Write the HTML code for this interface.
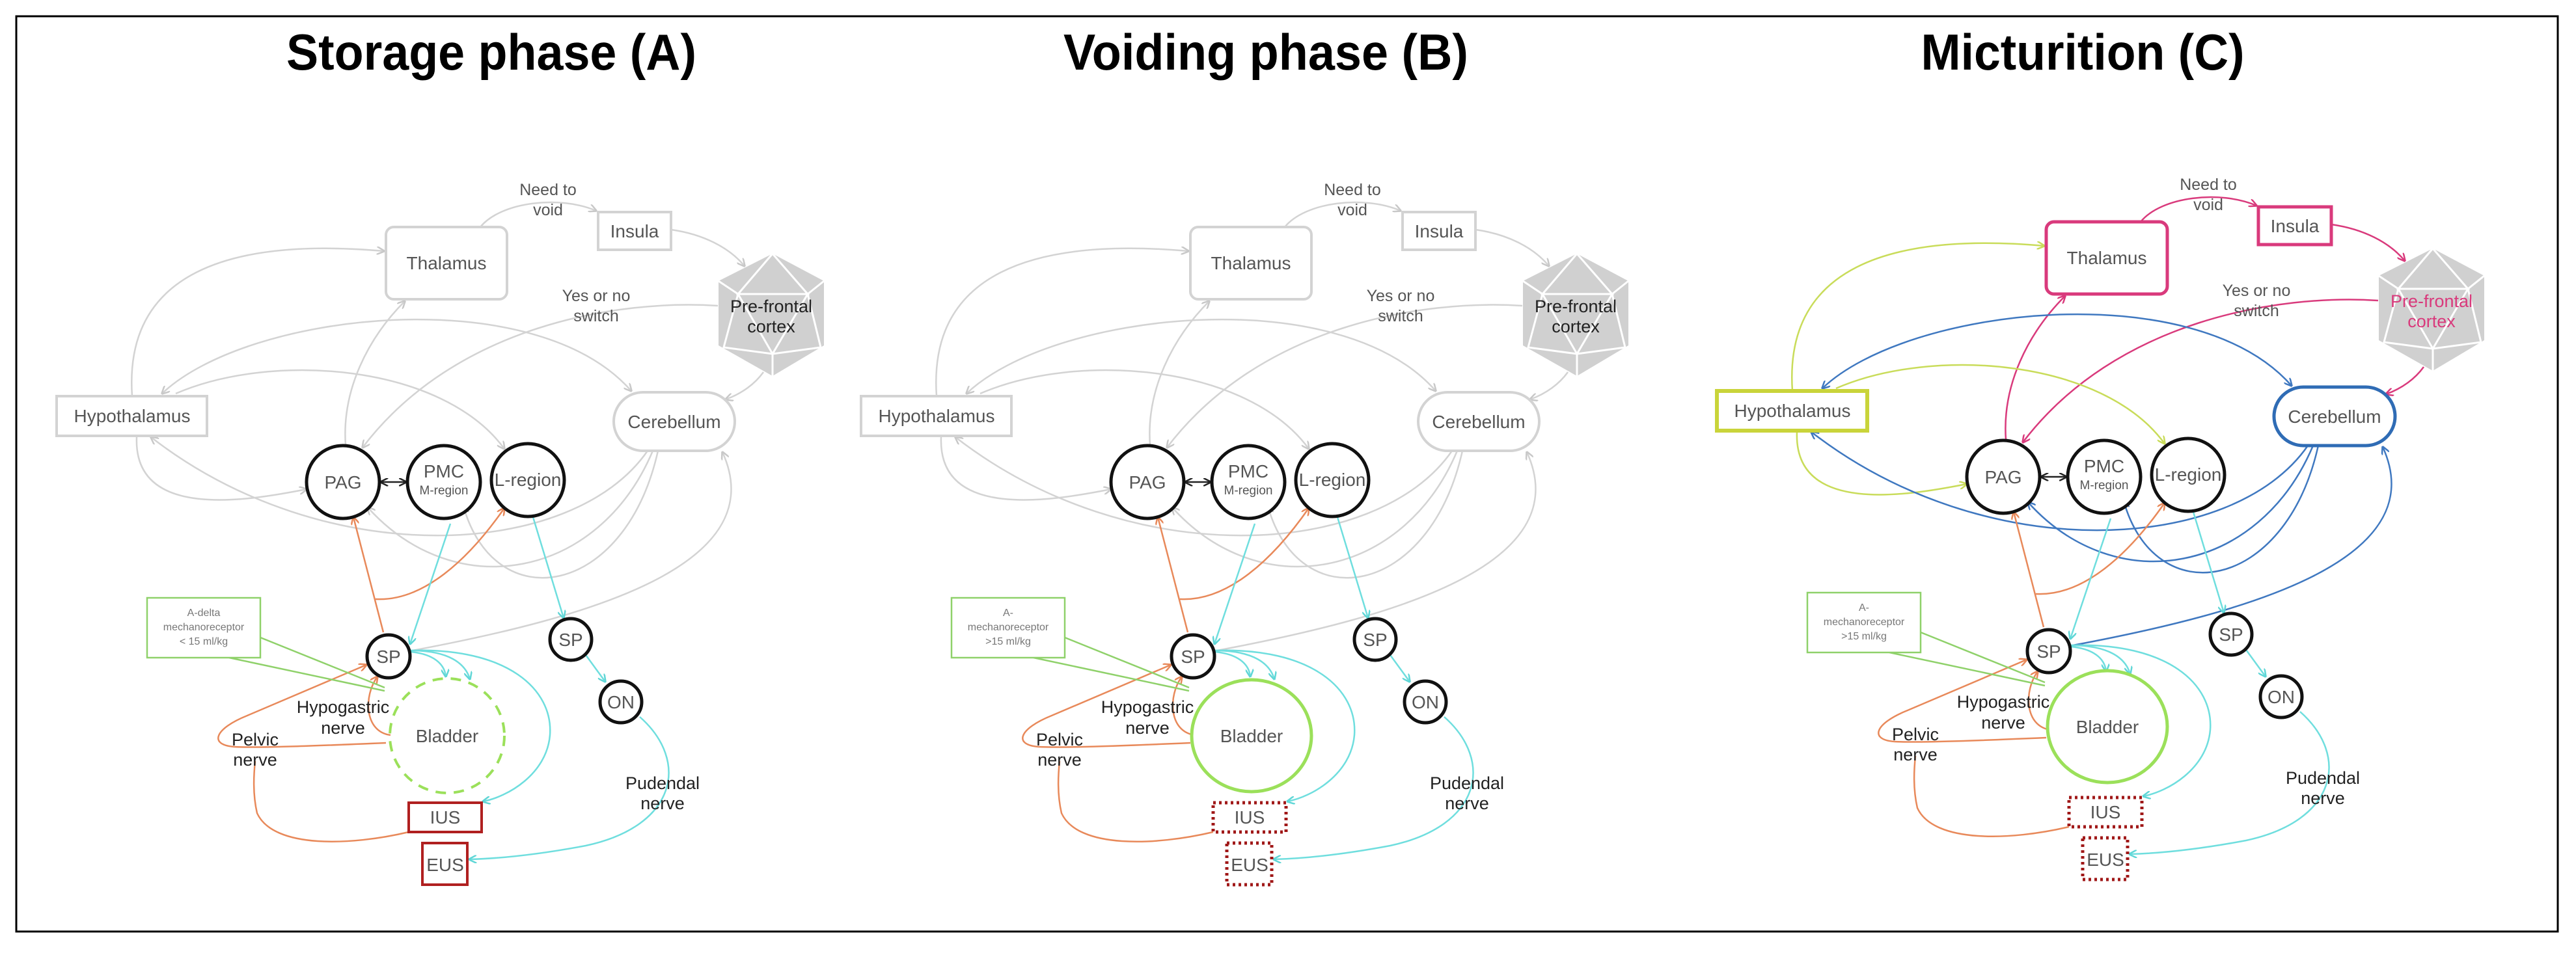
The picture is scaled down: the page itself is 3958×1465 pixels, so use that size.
<!DOCTYPE html>
<html><head><meta charset="utf-8">
<style>
html,body{margin:0;padding:0;background:#fff;}
svg{display:block;}
text{font-family:"Liberation Sans",sans-serif;text-anchor:middle;}
.e{fill:none;stroke-width:2.5;}
.g{stroke:#d3d3d3;marker-end:url(#mg);}
.gs{marker-start:url(#mgs);}
.o{stroke:#e8895a;marker-end:url(#mo);}
.o0{stroke:#e8895a;}
.c{stroke:#6fdede;marker-end:url(#mc);}
.pC .pk{stroke:#d93a7c;marker-end:url(#mp);}
.pC .yl{stroke:#c9dc5a;marker-end:url(#my);}
.pC .bl{stroke:#3f78c0;marker-end:url(#mb);}
.pC .bls{marker-start:url(#mbs);}
.lab{font-size:25px;fill:#555;}
.nl{font-size:27px;fill:#222;}
.nd{font-size:28px;fill:#555;}
</style></head>
<body>
<svg width="3958" height="1465" viewBox="0 0 3958 1465" xmlns="http://www.w3.org/2000/svg">
<defs>
<marker id="mg" viewBox="0 0 10 10" refX="9" refY="5" markerWidth="5" markerHeight="5" orient="auto"><path d="M0,0 L10,5 L0,10" fill="none" stroke="#c8c8c8" stroke-width="2"/></marker>
<marker id="mgs" viewBox="0 0 10 10" refX="1" refY="5" markerWidth="5" markerHeight="5" orient="auto"><path d="M10,0 L0,5 L10,10" fill="none" stroke="#c8c8c8" stroke-width="2"/></marker>
<marker id="mo" viewBox="0 0 10 10" refX="9" refY="5" markerWidth="5" markerHeight="5" orient="auto"><path d="M0,0 L10,5 L0,10" fill="none" stroke="#e8895a" stroke-width="2"/></marker>
<marker id="mc" viewBox="0 0 10 10" refX="9" refY="5" markerWidth="5" markerHeight="5" orient="auto"><path d="M0,0 L10,5 L0,10" fill="none" stroke="#5fd6d6" stroke-width="2"/></marker>
<marker id="mp" viewBox="0 0 10 10" refX="9" refY="5" markerWidth="5" markerHeight="5" orient="auto"><path d="M0,0 L10,5 L0,10" fill="none" stroke="#d93a7c" stroke-width="2"/></marker>
<marker id="my" viewBox="0 0 10 10" refX="9" refY="5" markerWidth="5" markerHeight="5" orient="auto"><path d="M0,0 L10,5 L0,10" fill="none" stroke="#c9dc5a" stroke-width="2"/></marker>
<marker id="mb" viewBox="0 0 10 10" refX="9" refY="5" markerWidth="5" markerHeight="5" orient="auto"><path d="M0,0 L10,5 L0,10" fill="none" stroke="#3f78c0" stroke-width="2"/></marker>
<marker id="mbs" viewBox="0 0 10 10" refX="1" refY="5" markerWidth="5" markerHeight="5" orient="auto"><path d="M10,0 L0,5 L10,10" fill="none" stroke="#3f78c0" stroke-width="2"/></marker>
<marker id="mk" viewBox="0 0 10 10" refX="9" refY="5" markerWidth="5" markerHeight="5" orient="auto"><path d="M0,0 L10,5 L0,10" fill="none" stroke="#222" stroke-width="2"/></marker>
<marker id="mks" viewBox="0 0 10 10" refX="1" refY="5" markerWidth="5" markerHeight="5" orient="auto"><path d="M10,0 L0,5 L10,10" fill="none" stroke="#222" stroke-width="2"/></marker>
</defs>
<rect x="0" y="0" width="3958" height="1465" fill="#fff"/>
<rect x="25" y="25" width="3905" height="1407" fill="none" stroke="#000" stroke-width="3"/>

<text x="755" y="107" font-size="78" font-weight="bold" fill="#000" textLength="630" lengthAdjust="spacingAndGlyphs">Storage phase (A)</text>
<text x="1945" y="107" font-size="78" font-weight="bold" fill="#000" textLength="622" lengthAdjust="spacingAndGlyphs">Voiding phase (B)</text>
<text x="3200" y="107" font-size="78" font-weight="bold" fill="#000" textLength="497" lengthAdjust="spacingAndGlyphs">Micturition (C)</text>

<!-- ================= PANEL A ================= -->
<g class="pA">
<path class="e g" d="M738,349 C770,310 860,300 916,324"/>
<path class="e g" d="M1031,353 C1080,360 1120,380 1144,409"/>
<path class="e g" d="M1103,470 C950,460 700,500 557,688"/>
<path class="e g" d="M1173,572 C1160,590 1140,605 1115,614"/>
<path class="e g" d="M203,609 C190,420 350,365 590,386"/>
<path class="e g" d="M531,684 C525,600 565,520 622,463"/>
<path class="e g gs" d="M249,605 C380,480 820,430 970,601"/>
<path class="e g" d="M270,605 C420,540 680,560 775,690"/>
<path class="e g" d="M210,672 C205,800 380,770 471,752"/>
<path class="e g" d="M995,693 C880,860 500,880 232,672"/>
<path class="e g" d="M1003,693 C920,890 700,930 565,780"/>
<path class="e g" d="M1011,693 C960,920 760,950 712,778"/>
<path class="e g" d="M634,1000 C900,950 1190,870 1110,695"/>
<path d="M585,741 L624,741" stroke="#222" stroke-width="2.5" marker-end="url(#mk)" marker-start="url(#mks)"/>
<path class="e o" d="M589,972 L543,795"/>
<path class="e o0" d="M577,921 C650,925 720,860 775,781" marker-end="url(#mo)"/>
<path class="e c" d="M692,805 L630,990"/>
<path class="e c" d="M819,795 L866,950"/>
<path class="e c" d="M895,1000 L930,1048"/>
<path class="e c" d="M983,1102 C1060,1170 1040,1270 900,1300 C820,1315 760,1320 721,1321"/>
<path class="e c" d="M630,1002 C665,1005 683,1020 685,1040"/>
<path class="e c" d="M630,1000 C690,1000 715,1020 722,1044"/>
<path class="e c" d="M630,1000 C780,995 850,1060 845,1130 C840,1190 780,1225 742,1232"/>
<path class="e o" d="M593,1142 C500,1146 400,1150 360,1148 C320,1145 330,1120 380,1100 L563,1022"/>
<path class="e o" d="M600,1130 C560,1125 558,1070 580,1040"/>
<path class="e o0" d="M628,1279 C540,1300 420,1305 395,1250 C388,1220 390,1190 392,1170"/>
<path d="M400,980 L591,1057 M352,1011 L591,1062" stroke="#8fd16a" stroke-width="2.5" fill="none"/>
<rect x="226" y="919" width="174" height="92" fill="#fff" stroke="#8fd16a" stroke-width="2.5"/>
<text x="313" y="947" font-size="16" fill="#777">A-delta</text>
<text x="313" y="969" font-size="16" fill="#777">mechanoreceptor</text>
<text x="313" y="991" font-size="16" fill="#777">&lt; 15 ml/kg</text>

<rect x="593" y="349" width="186" height="111" rx="12" fill="#fff" stroke="#d3d3d3" stroke-width="4"/>
<text class="nd" x="686" y="414">Thalamus</text>
<rect x="919" y="326" width="112" height="58" fill="#fff" stroke="#d3d3d3" stroke-width="4"/>
<text class="nd" x="975" y="365">Insula</text>
<rect x="87" y="609" width="231" height="61" fill="#fff" stroke="#d3d3d3" stroke-width="4"/>
<text class="nd" x="203" y="649">Hypothalamus</text>
<rect x="943" y="603" width="186" height="90" rx="45" fill="#fff" stroke="#d3d3d3" stroke-width="4"/>
<text class="nd" x="1036" y="658">Cerebellum</text>
<g>
<polygon points="1187,390 1266,432 1266,531 1187,578 1104,531 1104,432" fill="#d0d0d0"/>
<path d="M1187,390 L1134,452 L1241,452 Z M1104,432 L1134,452 M1266,432 L1241,452 M1134,452 L1187,544 L1241,452 M1134,452 L1112,534 L1187,544 L1261,534 L1241,452 M1187,544 L1187,578" stroke="#fff" stroke-width="3" fill="none"/>
<text x="1185" y="480" font-size="27" fill="#222">Pre-frontal</text>
<text x="1185" y="511" font-size="27" fill="#222">cortex</text>
</g>
<circle cx="527" cy="741" r="56" fill="#fff" stroke="#111" stroke-width="5"/>
<text class="nd" x="527" y="751">PAG</text>
<circle cx="682" cy="741" r="56" fill="#fff" stroke="#111" stroke-width="5"/>
<text class="nd" x="682" y="734" font-size="27">PMC</text>
<text x="682" y="760" font-size="19" fill="#555">M-region</text>
<circle cx="811" cy="738" r="56" fill="#fff" stroke="#111" stroke-width="5"/>
<text class="nd" x="811" y="747" font-size="26">L-region</text>
<circle cx="597" cy="1009" r="33" fill="#fff" stroke="#111" stroke-width="5"/>
<text class="nd" x="597" y="1019">SP</text>
<circle cx="877" cy="983" r="32" fill="#fff" stroke="#111" stroke-width="5"/>
<text class="nd" x="877" y="993">SP</text>
<circle cx="954" cy="1079" r="32" fill="#fff" stroke="#111" stroke-width="5"/>
<text class="nd" x="954" y="1089">ON</text>
<circle cx="687" cy="1131" r="88" fill="none" stroke="#9be05a" stroke-width="4" stroke-dasharray="16,12"/>
<text class="nd" x="687" y="1141">Bladder</text>
<rect x="628" y="1234" width="112" height="45" fill="#fff" stroke="#b02020" stroke-width="4"/>
<text class="nd" x="684" y="1266">IUS</text>
<rect x="649" y="1296" width="69" height="64" fill="#fff" stroke="#b02020" stroke-width="4"/>
<text class="nd" x="684" y="1339">EUS</text>
<text class="lab" x="842" y="300">Need to</text>
<text class="lab" x="842" y="331">void</text>
<text class="lab" x="916" y="463">Yes or no</text>
<text class="lab" x="916" y="494">switch</text>
<text class="nl" x="527" y="1096">Hypogastric</text>
<text class="nl" x="527" y="1128">nerve</text>
<text class="nl" x="392" y="1146">Pelvic</text>
<text class="nl" x="392" y="1177">nerve</text>
<text class="nl" x="1018" y="1213">Pudendal</text>
<text class="nl" x="1018" y="1244">nerve</text>
</g>

<!-- ================= PANEL B ================= -->
<g class="pB" transform="translate(1236,0)">
<path class="e g" d="M738,349 C770,310 860,300 916,324"/>
<path class="e g" d="M1031,353 C1080,360 1120,380 1144,409"/>
<path class="e g" d="M1103,470 C950,460 700,500 557,688"/>
<path class="e g" d="M1173,572 C1160,590 1140,605 1115,614"/>
<path class="e g" d="M203,609 C190,420 350,365 590,386"/>
<path class="e g" d="M531,684 C525,600 565,520 622,463"/>
<path class="e g gs" d="M249,605 C380,480 820,430 970,601"/>
<path class="e g" d="M270,605 C420,540 680,560 775,690"/>
<path class="e g" d="M210,672 C205,800 380,770 471,752"/>
<path class="e g" d="M995,693 C880,860 500,880 232,672"/>
<path class="e g" d="M1003,693 C920,890 700,930 565,780"/>
<path class="e g" d="M1011,693 C960,920 760,950 712,778"/>
<path class="e g" d="M634,1000 C900,950 1190,870 1110,695"/>
<path d="M585,741 L624,741" stroke="#222" stroke-width="2.5" marker-end="url(#mk)" marker-start="url(#mks)"/>
<path class="e o" d="M589,972 L543,795"/>
<path class="e o0" d="M577,921 C650,925 720,860 775,781" marker-end="url(#mo)"/>
<path class="e c" d="M692,805 L630,990"/>
<path class="e c" d="M819,795 L866,950"/>
<path class="e c" d="M895,1000 L930,1048"/>
<path class="e c" d="M983,1102 C1060,1170 1040,1270 900,1300 C820,1315 760,1320 721,1321"/>
<path class="e c" d="M630,1002 C665,1005 683,1020 685,1040"/>
<path class="e c" d="M630,1000 C690,1000 715,1020 722,1044"/>
<path class="e c" d="M630,1000 C780,995 850,1060 845,1130 C840,1190 780,1225 742,1232"/>
<path class="e o" d="M593,1142 C500,1146 400,1150 360,1148 C320,1145 330,1120 380,1100 L563,1022"/>
<path class="e o" d="M600,1130 C560,1125 558,1070 580,1040"/>
<path class="e o0" d="M628,1279 C540,1300 420,1305 395,1250 C388,1220 390,1190 392,1170"/>
<path d="M400,980 L591,1057 M352,1011 L591,1062" stroke="#8fd16a" stroke-width="2.5" fill="none"/>
<rect x="226" y="919" width="174" height="92" fill="#fff" stroke="#8fd16a" stroke-width="2.5"/>
<text x="313" y="947" font-size="16" fill="#777">A-</text>
<text x="313" y="969" font-size="16" fill="#777">mechanoreceptor</text>
<text x="313" y="991" font-size="16" fill="#777">&gt;15 ml/kg</text>

<rect x="593" y="349" width="186" height="111" rx="12" fill="#fff" stroke="#d3d3d3" stroke-width="4"/>
<text class="nd" x="686" y="414">Thalamus</text>
<rect x="919" y="326" width="112" height="58" fill="#fff" stroke="#d3d3d3" stroke-width="4"/>
<text class="nd" x="975" y="365">Insula</text>
<rect x="87" y="609" width="231" height="61" fill="#fff" stroke="#d3d3d3" stroke-width="4"/>
<text class="nd" x="203" y="649">Hypothalamus</text>
<rect x="943" y="603" width="186" height="90" rx="45" fill="#fff" stroke="#d3d3d3" stroke-width="4"/>
<text class="nd" x="1036" y="658">Cerebellum</text>
<g>
<polygon points="1187,390 1266,432 1266,531 1187,578 1104,531 1104,432" fill="#d0d0d0"/>
<path d="M1187,390 L1134,452 L1241,452 Z M1104,432 L1134,452 M1266,432 L1241,452 M1134,452 L1187,544 L1241,452 M1134,452 L1112,534 L1187,544 L1261,534 L1241,452 M1187,544 L1187,578" stroke="#fff" stroke-width="3" fill="none"/>
<text x="1185" y="480" font-size="27" fill="#222">Pre-frontal</text>
<text x="1185" y="511" font-size="27" fill="#222">cortex</text>
</g>
<circle cx="527" cy="741" r="56" fill="#fff" stroke="#111" stroke-width="5"/>
<text class="nd" x="527" y="751">PAG</text>
<circle cx="682" cy="741" r="56" fill="#fff" stroke="#111" stroke-width="5"/>
<text class="nd" x="682" y="734" font-size="27">PMC</text>
<text x="682" y="760" font-size="19" fill="#555">M-region</text>
<circle cx="811" cy="738" r="56" fill="#fff" stroke="#111" stroke-width="5"/>
<text class="nd" x="811" y="747" font-size="26">L-region</text>
<circle cx="597" cy="1009" r="33" fill="#fff" stroke="#111" stroke-width="5"/>
<text class="nd" x="597" y="1019">SP</text>
<circle cx="877" cy="983" r="32" fill="#fff" stroke="#111" stroke-width="5"/>
<text class="nd" x="877" y="993">SP</text>
<circle cx="954" cy="1079" r="32" fill="#fff" stroke="#111" stroke-width="5"/>
<text class="nd" x="954" y="1089">ON</text>
<ellipse cx="687" cy="1131" rx="92" ry="86" fill="#fff" stroke="#9be05a" stroke-width="5"/>
<text class="nd" x="687" y="1141">Bladder</text>
<rect x="628" y="1234" width="112" height="45" fill="#fff" stroke="#a01818" stroke-width="5" stroke-dasharray="4,5"/>
<text class="nd" x="684" y="1266">IUS</text>
<rect x="649" y="1296" width="69" height="64" fill="#fff" stroke="#a01818" stroke-width="5" stroke-dasharray="4,5"/>
<text class="nd" x="684" y="1339">EUS</text>
<text class="lab" x="842" y="300">Need to</text>
<text class="lab" x="842" y="331">void</text>
<text class="lab" x="916" y="463">Yes or no</text>
<text class="lab" x="916" y="494">switch</text>
<text class="nl" x="527" y="1096">Hypogastric</text>
<text class="nl" x="527" y="1128">nerve</text>
<text class="nl" x="392" y="1146">Pelvic</text>
<text class="nl" x="392" y="1177">nerve</text>
<text class="nl" x="1018" y="1213">Pudendal</text>
<text class="nl" x="1018" y="1244">nerve</text>
</g>

<!-- ================= PANEL C ================= -->
<g class="pC" transform="translate(2551,-8)">
<path class="e g pk" d="M738,349 C770,310 860,300 916,324"/>
<path class="e g pk" d="M1031,353 C1080,360 1120,380 1144,409"/>
<path class="e g pk" d="M1103,470 C950,460 700,500 557,688"/>
<path class="e g pk" d="M1173,572 C1160,590 1140,605 1115,614"/>
<path class="e g yl" d="M203,609 C190,420 350,365 590,386"/>
<path class="e g pk" d="M531,684 C525,600 565,520 622,463"/>
<path class="e g bl bls" d="M249,605 C380,480 820,430 970,601"/>
<path class="e g yl" d="M270,605 C420,540 680,560 775,690"/>
<path class="e g yl" d="M210,672 C205,800 380,770 471,752"/>
<path class="e g bl" d="M995,693 C880,860 500,880 232,672"/>
<path class="e g bl" d="M1003,693 C920,890 700,930 565,780"/>
<path class="e g bl" d="M1011,693 C960,920 760,950 712,778"/>
<path class="e g bl" d="M634,1000 C900,950 1190,870 1110,695"/>
<path d="M585,741 L624,741" stroke="#222" stroke-width="2.5" marker-end="url(#mk)" marker-start="url(#mks)"/>
<path class="e o" d="M589,972 L543,795"/>
<path class="e o0" d="M577,921 C650,925 720,860 775,781" marker-end="url(#mo)"/>
<path class="e c" d="M692,805 L630,990"/>
<path class="e c" d="M819,795 L866,950"/>
<path class="e c" d="M895,1000 L930,1048"/>
<path class="e c" d="M983,1102 C1060,1170 1040,1270 900,1300 C820,1315 760,1320 721,1321"/>
<path class="e c" d="M630,1002 C665,1005 683,1020 685,1040"/>
<path class="e c" d="M630,1000 C690,1000 715,1020 722,1044"/>
<path class="e c" d="M630,1000 C780,995 850,1060 845,1130 C840,1190 780,1225 742,1232"/>
<path class="e o" d="M593,1142 C500,1146 400,1150 360,1148 C320,1145 330,1120 380,1100 L563,1022"/>
<path class="e o" d="M600,1130 C560,1125 558,1070 580,1040"/>
<path class="e o0" d="M628,1279 C540,1300 420,1305 395,1250 C388,1220 390,1190 392,1170"/>
<path d="M400,980 L591,1057 M352,1011 L591,1062" stroke="#8fd16a" stroke-width="2.5" fill="none"/>
<rect x="226" y="919" width="174" height="92" fill="#fff" stroke="#8fd16a" stroke-width="2.5"/>
<text x="313" y="947" font-size="16" fill="#777">A-</text>
<text x="313" y="969" font-size="16" fill="#777">mechanoreceptor</text>
<text x="313" y="991" font-size="16" fill="#777">&gt;15 ml/kg</text>

<rect x="593" y="349" width="186" height="111" rx="12" fill="#fff" stroke="#d93a7c" stroke-width="5"/>
<text class="nd" x="686" y="414">Thalamus</text>
<rect x="919" y="326" width="112" height="58" fill="#fff" stroke="#d93a7c" stroke-width="5"/>
<text class="nd" x="975" y="365">Insula</text>
<rect x="87" y="609" width="231" height="61" fill="#fff" stroke="#c9d43a" stroke-width="6"/>
<text class="nd" x="203" y="649">Hypothalamus</text>
<rect x="943" y="603" width="186" height="90" rx="45" fill="#fff" stroke="#2f6cb5" stroke-width="5"/>
<text class="nd" x="1036" y="658">Cerebellum</text>
<g>
<polygon points="1187,390 1266,432 1266,531 1187,578 1104,531 1104,432" fill="#d0d0d0"/>
<path d="M1187,390 L1134,452 L1241,452 Z M1104,432 L1134,452 M1266,432 L1241,452 M1134,452 L1187,544 L1241,452 M1134,452 L1112,534 L1187,544 L1261,534 L1241,452 M1187,544 L1187,578" stroke="#fff" stroke-width="3" fill="none"/>
<text x="1185" y="480" font-size="27" fill="#d93a7c">Pre-frontal</text>
<text x="1185" y="511" font-size="27" fill="#d93a7c">cortex</text>
</g>
<circle cx="527" cy="741" r="56" fill="#fff" stroke="#111" stroke-width="5"/>
<text class="nd" x="527" y="751">PAG</text>
<circle cx="682" cy="741" r="56" fill="#fff" stroke="#111" stroke-width="5"/>
<text class="nd" x="682" y="734" font-size="27">PMC</text>
<text x="682" y="760" font-size="19" fill="#555">M-region</text>
<circle cx="811" cy="738" r="56" fill="#fff" stroke="#111" stroke-width="5"/>
<text class="nd" x="811" y="747" font-size="26">L-region</text>
<circle cx="597" cy="1009" r="33" fill="#fff" stroke="#111" stroke-width="5"/>
<text class="nd" x="597" y="1019">SP</text>
<circle cx="877" cy="983" r="32" fill="#fff" stroke="#111" stroke-width="5"/>
<text class="nd" x="877" y="993">SP</text>
<circle cx="954" cy="1079" r="32" fill="#fff" stroke="#111" stroke-width="5"/>
<text class="nd" x="954" y="1089">ON</text>
<ellipse cx="687" cy="1125" rx="92" ry="86" fill="#fff" stroke="#9be05a" stroke-width="5"/>
<text class="nd" x="687" y="1135">Bladder</text>
<rect x="628" y="1234" width="112" height="45" fill="#fff" stroke="#a01818" stroke-width="5" stroke-dasharray="4,5"/>
<text class="nd" x="684" y="1266">IUS</text>
<rect x="649" y="1296" width="69" height="64" fill="#fff" stroke="#a01818" stroke-width="5" stroke-dasharray="4,5"/>
<text class="nd" x="684" y="1339">EUS</text>
<text class="lab" x="842" y="300">Need to</text>
<text class="lab" x="842" y="331">void</text>
<text class="lab" x="916" y="463">Yes or no</text>
<text class="lab" x="916" y="494">switch</text>
<text class="nl" x="527" y="1096">Hypogastric</text>
<text class="nl" x="527" y="1128">nerve</text>
<text class="nl" x="392" y="1146">Pelvic</text>
<text class="nl" x="392" y="1177">nerve</text>
<text class="nl" x="1018" y="1213">Pudendal</text>
<text class="nl" x="1018" y="1244">nerve</text>
</g>
</svg>
</body></html>
